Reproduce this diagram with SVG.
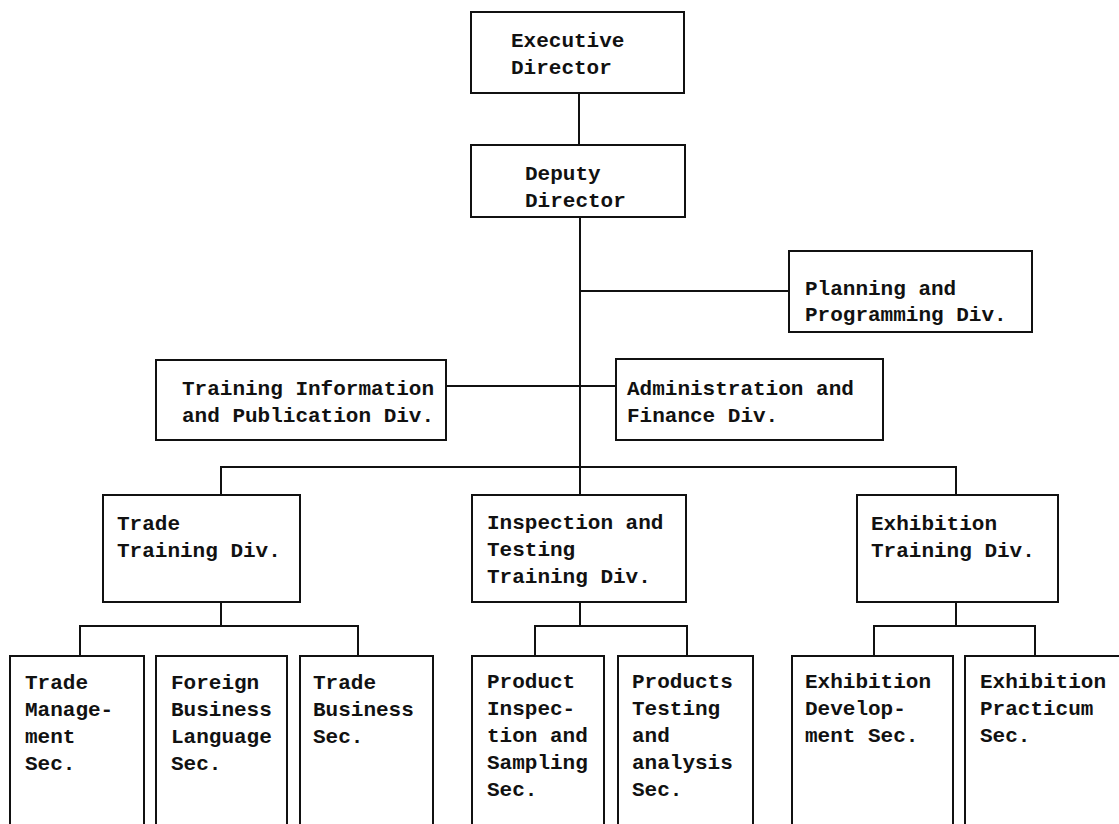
<svg xmlns="http://www.w3.org/2000/svg" width="1119" height="824" viewBox="0 0 1119 824">
<style>
.box{fill:#fff;stroke:#111;stroke-width:2}
.ln{fill:none;stroke:#111;stroke-width:2}
text{font-family:"Liberation Mono","Courier New",monospace;font-size:21px;fill:#111;font-weight:bold}
</style>
<rect width="1119" height="824" fill="#fff"/>
<g id="connectors" class="ln">
<path d="M579 93V145"/>
<path d="M580 217V495"/>
<path d="M580 291H789"/>
<path d="M446 386H616"/>
<path d="M221 495V467H956V495"/>
<path d="M221 602V626M80 656V626H358V656"/>
<path d="M580 602V626M535 656V626H687V656"/>
<path d="M956 602V626M874 656V626H1035V656"/>
</g>
<g id="exec"><rect class="box" x="471" y="12" width="213" height="81"/><text x="511" y="47">Executive</text><text x="511" y="74">Director</text></g>
<g id="deputy"><rect class="box" x="471" y="145" width="214" height="72"/><text x="525" y="180">Deputy</text><text x="525" y="207">Director</text></g>
<g id="planning"><rect class="box" x="789" y="251" width="243" height="81"/><text x="805" y="295">Planning and</text><text x="805" y="321">Programming Div.</text></g>
<g id="tip"><rect class="box" x="156" y="360" width="290" height="80"/><text x="182" y="395">Training Information</text><text x="182" y="422">and Publication Div.</text></g>
<g id="admin"><rect class="box" x="616" y="359" width="267" height="81"/><text x="627" y="395">Administration and</text><text x="627" y="422">Finance Div.</text></g>
<g id="trade"><rect class="box" x="103" y="495" width="197" height="107"/><text x="117" y="530">Trade</text><text x="117" y="557">Training Div.</text></g>
<g id="inspection"><rect class="box" x="472" y="495" width="214" height="107"/><text x="487" y="529">Inspection and</text><text x="487" y="556">Testing</text><text x="487" y="583">Training Div.</text></g>
<g id="exhibition"><rect class="box" x="857" y="495" width="201" height="107"/><text x="871" y="530">Exhibition</text><text x="871" y="557">Training Div.</text></g>
<g id="tm"><rect class="box" x="10" y="656" width="134" height="180"/><text x="25" y="689">Trade</text><text x="25" y="716">Manage-</text><text x="25" y="743">ment</text><text x="25" y="770">Sec.</text></g>
<g id="fbl"><rect class="box" x="156" y="656" width="131" height="180"/><text x="171" y="689">Foreign</text><text x="171" y="716">Business</text><text x="171" y="743">Language</text><text x="171" y="770">Sec.</text></g>
<g id="tb"><rect class="box" x="300" y="656" width="133" height="180"/><text x="313" y="689">Trade</text><text x="313" y="716">Business</text><text x="313" y="743">Sec.</text></g>
<g id="pis"><rect class="box" x="472" y="656" width="132" height="180"/><text x="487" y="688">Product</text><text x="487" y="715">Inspec-</text><text x="487" y="742">tion and</text><text x="487" y="769">Sampling</text><text x="487" y="796">Sec.</text></g>
<g id="pta"><rect class="box" x="618" y="656" width="135" height="180"/><text x="632" y="688">Products</text><text x="632" y="715">Testing</text><text x="632" y="742">and</text><text x="632" y="769">analysis</text><text x="632" y="796">Sec.</text></g>
<g id="ed"><rect class="box" x="792" y="656" width="161" height="180"/><text x="805" y="688">Exhibition</text><text x="805" y="715">Develop-</text><text x="805" y="742">ment Sec.</text></g>
<g id="ep"><rect class="box" x="965" y="656" width="170" height="180"/><text x="980" y="688">Exhibition</text><text x="980" y="715">Practicum</text><text x="980" y="742">Sec.</text></g>
</svg>
